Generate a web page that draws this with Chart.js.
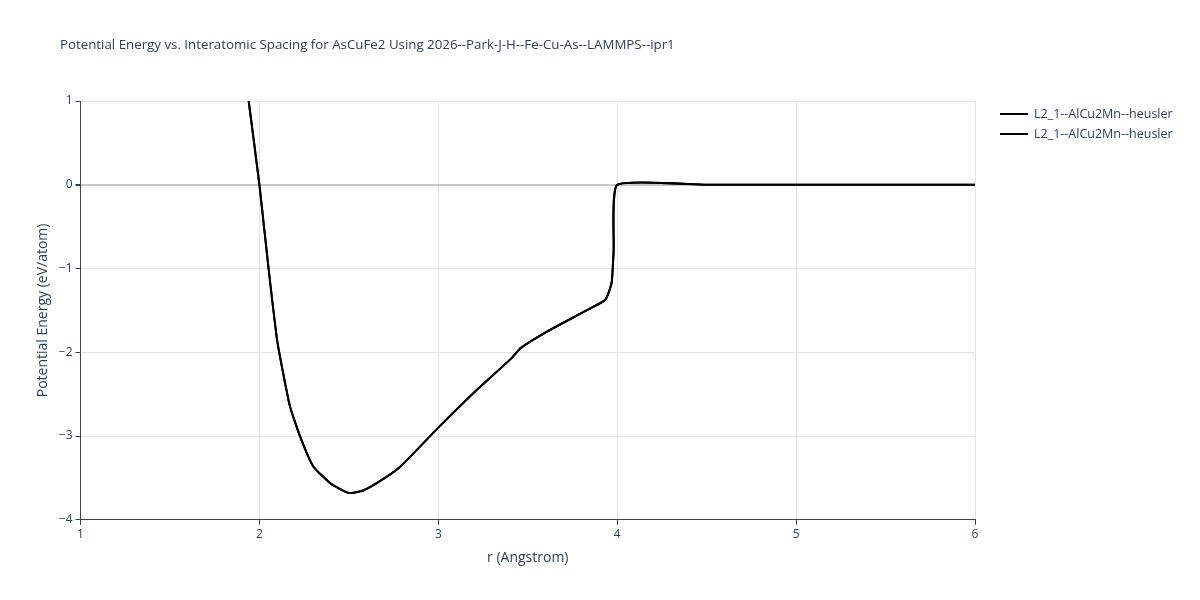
<!DOCTYPE html>
<html><head><meta charset="utf-8">
<script src="https://cdn.jsdelivr.net/npm/chart.js"></script>
<style>html,body{margin:0;background:#fff}#w{width:1200px;height:600px}</style>
</head><body><div id="w"><canvas id="c"></canvas></div>
<script>
const rValues=[1.94,2.0,2.05,2.10,2.17,2.23,2.30,2.40,2.50,2.58,2.68,2.79,3.0,3.21,3.41,3.46,3.61,3.82,3.93,3.95,3.97,3.98,4.0,4.5,5.0,5.5,6.0];
const energyValues=[1.0,0.0,-0.98,-1.87,-2.64,-3.02,-3.36,-3.57,-3.68,-3.65,-3.53,-3.36,-2.90,-2.46,-2.07,-1.95,-1.75,-1.51,-1.38,-1.30,-1.15,-0.79,0.0,0.0,0.0,0.0,0.0];
const seriesLabels=["L2_1--AlCu2Mn--heusler","L2_1--AlCu2Mn--heusler"];
const titleText="Potential Energy vs. Interatomic Spacing for AsCuFe2 Using 2026--Park-J-H--Fe-Cu-As--LAMMPS--ipr1";
const pts=rValues.map((r,i)=>({x:r,y:energyValues[i]}));
const font="'Open Sans', 'Liberation Sans', sans-serif";
const deco={id:'deco',afterDraw(ch){const c=ch.ctx;c.save();c.fillStyle='#2a3f5f';c.font="13.3px "+font;c.textBaseline='middle';c.fillText(titleText,60,45);
c.font="12.5px "+font;seriesLabels.forEach((l,i)=>{const y=114+i*20;c.strokeStyle='#000';c.lineWidth=2;c.beginPath();c.moveTo(1000,y);c.lineTo(1028,y);c.stroke();c.fillText(l,1034,y);});c.restore();}};
const minus=v=>String(v).replace('-','\u2212');
new Chart(document.getElementById('c'),{type:'line',
data:{datasets:seriesLabels.map(l=>({label:l,data:pts,borderColor:'#000',borderWidth:2,pointRadius:0,tension:0.15,fill:false}))},
options:{responsive:true,maintainAspectRatio:false,animation:false,
layout:{padding:{left:31,top:101,right:225,bottom:30}},
plugins:{legend:{display:false},title:{display:false},tooltip:{enabled:false}},
scales:{
x:{type:'linear',min:1,max:6,ticks:{stepSize:1,color:'#2a3f5f',font:{family:font,size:12}},grid:{color:'#e5e5e5',drawTicks:true,tickColor:'#2a3f5f',tickLength:5},border:{color:'#444',width:1},title:{display:true,text:'r (Angstrom)',color:'#2a3f5f',font:{family:font,size:14}}},
y:{min:-4,max:1,ticks:{stepSize:1,color:'#2a3f5f',font:{family:font,size:12},callback:v=>minus(v)},grid:{color:c=>c.tick&&c.tick.value===0?'#c8c8c8':'#e5e5e5',lineWidth:c=>c.tick&&c.tick.value===0?2:1,tickColor:'#2a3f5f',tickLength:5},border:{color:'#444',width:1},title:{display:true,text:'Potential Energy (eV/atom)',color:'#2a3f5f',font:{family:font,size:14}}}
}},plugins:[deco]});
</script></body></html>
